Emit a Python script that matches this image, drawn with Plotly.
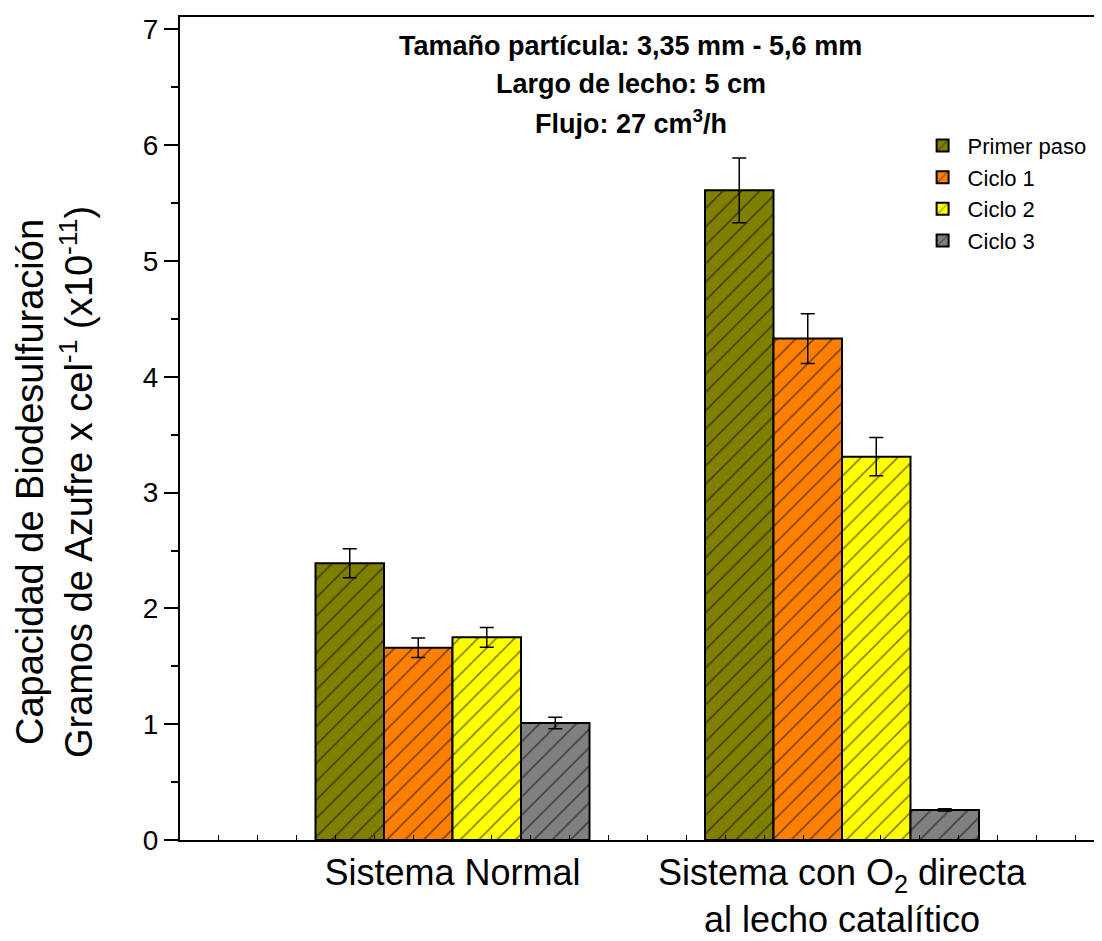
import plotly.graph_objects as go

categories = ["Sistema Normal", "Sistema con O<sub>2</sub> directa<br>al lecho catalítico"]
x_pos = [0, 1]
series_names = ["Primer paso", "Ciclo 1", "Ciclo 2", "Ciclo 3"]
values = {
    "Primer paso": [2.39, 5.61],
    "Ciclo 1": [1.66, 4.33],
    "Ciclo 2": [1.75, 3.31],
    "Ciclo 3": [1.01, 0.26],
}
errors = {
    "Primer paso": [0.125, 0.28],
    "Ciclo 1": [0.085, 0.215],
    "Ciclo 2": [0.085, 0.165],
    "Ciclo 3": [0.05, 0.01],
}
colors = {
    "Primer paso": "#808000",
    "Ciclo 1": "#FF8000",
    "Ciclo 2": "#FFFF00",
    "Ciclo 3": "#808080",
}

fig = go.Figure()
for name in series_names:
    fig.add_trace(go.Bar(
        name=name,
        x=x_pos,
        y=values[name],
        marker=dict(
            color=colors[name],
            line=dict(color="black", width=2),
            pattern=dict(shape="/", fgcolor="black", size=13, solidity=0.12),
        ),
        error_y=dict(type="data", array=errors[name], visible=True,
                     color="black", thickness=1.5, width=7),
    ))

font_family = "Liberation Sans, Arial, sans-serif"
# page has an 8px body margin, so the figure is sized/offset to compensate
fig.update_layout(
    width=1094, height=933,
    margin=dict(l=172, r=0, t=9, b=101, autoexpand=False),
    paper_bgcolor="white", plot_bgcolor="white",
    barmode="group", bargap=0.2965, bargroupgap=0,
    font=dict(family=font_family, color="black"),
    legend=dict(x=0.800, y=0.869, xanchor="left", yanchor="top",
                font=dict(size=22, family=font_family), bgcolor="rgba(0,0,0,0)",
                tracegroupgap=0, itemwidth=40),
    showlegend=True,
)
fig.update_xaxes(
    range=[-0.6996, 1.6675],
    tickmode="array", tickvals=x_pos, ticktext=categories,
    ticks="", tickfont=dict(size=36, family=font_family),
    showline=True, linecolor="black", linewidth=2, mirror=True,
    showgrid=False, zeroline=False,
    minor=dict(dtick=0.1, ticks="inside", ticklen=5, tickcolor="black", tickwidth=1, showgrid=False),
)
fig.update_yaxes(
    range=[0, 7.107],
    tickmode="linear", tick0=0, dtick=1,
    ticks="outside", ticklen=14, tickwidth=2, tickcolor="black",
    tickfont=dict(size=28, family=font_family),
    showline=True, linecolor="black", linewidth=2,
    showgrid=False, zeroline=False,
    minor=dict(dtick=0.5, ticks="outside", ticklen=7, tickwidth=2, tickcolor="black", showgrid=False),
)

# y-axis title (offset downward like the reference)
fig.add_annotation(
    text="Capacidad de Biodesulfuración<br>Gramos de Azufre x cel<sup>-1</sup> (x10<sup>-11</sup>)",
    x=-0.1355, y=0.435, xref="paper", yref="paper", textangle=-90,
    showarrow=False, xanchor="center", yanchor="middle",
    font=dict(size=38, family=font_family, color="black"),
)

ann_lines = ["<b>Tamaño partícula: 3,35 mm - 5,6 mm</b>",
             "<b>Largo de lecho: 5 cm</b>",
             "<b>Flujo: 27 cm<sup>3</sup>/h</b>"]
ann_y = [0.965, 0.919, 0.872]
for txt, yy in zip(ann_lines, ann_y):
    fig.add_annotation(text=txt, x=0.489, y=yy, xref="paper", yref="paper",
                       showarrow=False, font=dict(size=27, family=font_family, color="black"),
                       xanchor="center", yanchor="middle")

fig.write_html("out.html")
